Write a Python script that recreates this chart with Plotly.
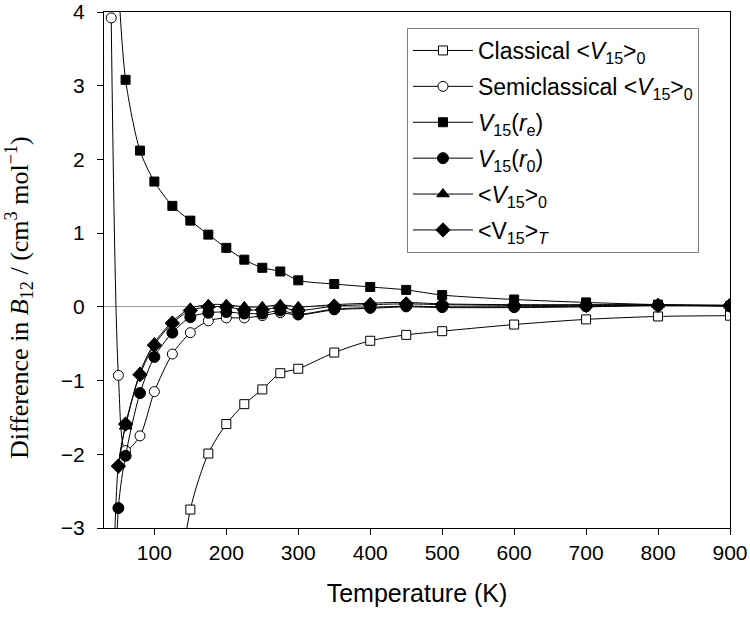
import plotly.graph_objects as go

# Temperatures (K)
T = [40, 50, 60, 80, 100, 125, 150, 175, 200, 225, 250, 275, 300,
     350, 400, 450, 500, 600, 700, 800, 900]

classical = [None, None, None, None, None, -4.6, -2.75, -1.99, -1.59, -1.32, -1.12, -0.90, -0.84,
             -0.62, -0.46, -0.38, -0.33, -0.24, -0.17, -0.13, -0.12]
semiclassical = [3.92, -0.93, -1.95, -1.75, -1.15, -0.64, -0.35, -0.19, -0.15, -0.15, -0.12, -0.08, -0.11,
                 -0.04, -0.02, 0.0, -0.01, -0.01, 0.0, 0.02, 0.01]
v15_re = [None, 4.4, 3.08, 2.12, 1.70, 1.37, 1.17, 0.98, 0.80, 0.64, 0.53, 0.48, 0.36,
          0.31, 0.27, 0.23, 0.16, 0.10, 0.06, 0.03, 0.01]
v15_r0 = [-8.0, -2.73, -2.02, -1.17, -0.68, -0.35, -0.14, -0.08, -0.07, -0.09, -0.09, -0.05, -0.10,
          -0.03, -0.01, 0.01, 0.0, 0.0, 0.01, 0.02, 0.02]
v15_avg0 = [-5.0, -2.14, -1.62, -0.89, -0.49, -0.20, -0.02, 0.03, 0.03, 0.0, 0.0, 0.03, 0.0,
            0.03, 0.05, 0.06, 0.04, 0.03, 0.03, 0.03, 0.02]
v15_avgT = [None, -2.16, -1.59, -0.92, -0.52, -0.22, -0.05, 0.0, 0.0, -0.04, -0.04, -0.01, -0.05,
            0.01, 0.03, 0.04, 0.03, 0.02, 0.02, 0.02, 0.02]

names = [
    "Classical &lt;<i>V</i><sub>15</sub>&gt;<sub>0</sub>",
    "Semiclassical &lt;<i>V</i><sub>15</sub>&gt;<sub>0</sub>",
    "<i>V</i><sub>15</sub>(<i>r</i><sub>e</sub>)",
    "<i>V</i><sub>15</sub>(<i>r</i><sub>0</sub>)",
    "&lt;<i>V</i><sub>15</sub>&gt;<sub>0</sub>",
    "&lt;V<sub>15</sub>&gt;<sub><i>T</i></sub>",
]
series = [classical, semiclassical, v15_re, v15_r0, v15_avg0, v15_avgT]
symbols = ["square", "circle", "square", "circle", "triangle-up", "diamond"]
fills = ["white", "white", "black", "black", "black", "black"]
sizes = [9, 10, 9, 11, 11, 11]

y_title = "Difference in <i>B</i><sub>12</sub> / (cm<sup>3</sup> mol<sup>−1</sup>)"

fig = go.Figure()
for i, (nm, ys, sym, fc, sz) in enumerate(zip(names, series, symbols, fills, sizes)):
    fig.add_trace(go.Scatter(
        x=T, y=ys, name=nm, mode="lines+markers",
        line=dict(color="black", width=1, shape="spline", smoothing=0.8),
        marker=dict(symbol=sym, size=sz, color=fc, line=dict(color="black", width=1)),
        legendgroup=str(i),
    ))

fig.update_layout(
    width=750, height=622,
    margin=dict(l=104, r=20, t=12, b=94, autoexpand=False),
    plot_bgcolor="white", paper_bgcolor="white",
    font=dict(family="Liberation Sans, Arial", size=21, color="black"),
    showlegend=True,
    legend=dict(
        x=0.484, y=0.969, xanchor="left", yanchor="top",
        bgcolor="white", bordercolor="#808080", borderwidth=1,
        font=dict(family="Liberation Sans, Arial", size=23, color="black"),
        tracegroupgap=3, itemwidth=60,
    ),
    annotations=[dict(
        text=y_title, textangle=-90, xref="paper", yref="paper",
        x=0, y=0.4457, xanchor="left", yanchor="middle", xshift=-105,
        showarrow=False,
        font=dict(family="Liberation Serif, Times New Roman", size=26, color="black"),
    )],
)
fig.update_xaxes(
    range=[30, 900], tickvals=[100, 200, 300, 400, 500, 600, 700, 800, 900],
    showgrid=False, zeroline=False, automargin=False,
    showline=True, linecolor="black", linewidth=1, mirror=True,
    ticks="outside", ticklen=6, tickcolor="black",
    title=dict(text="Temperature (K)", font=dict(size=25), standoff=21),
)
fig.update_yaxes(
    range=[-3, 4], tickvals=[-3, -2, -1, 0, 1, 2, 3, 4],
    showgrid=False, zeroline=True, zerolinecolor="#999999", zerolinewidth=1,
    showline=True, linecolor="black", linewidth=1, mirror=True, automargin=False,
    ticks="outside", ticklen=6, tickcolor="black", ticklabelstandoff=8,
)

fig.write_html("out.html", config={"displayModeBar": False},
               post_script="document.body.style.margin='0';")
